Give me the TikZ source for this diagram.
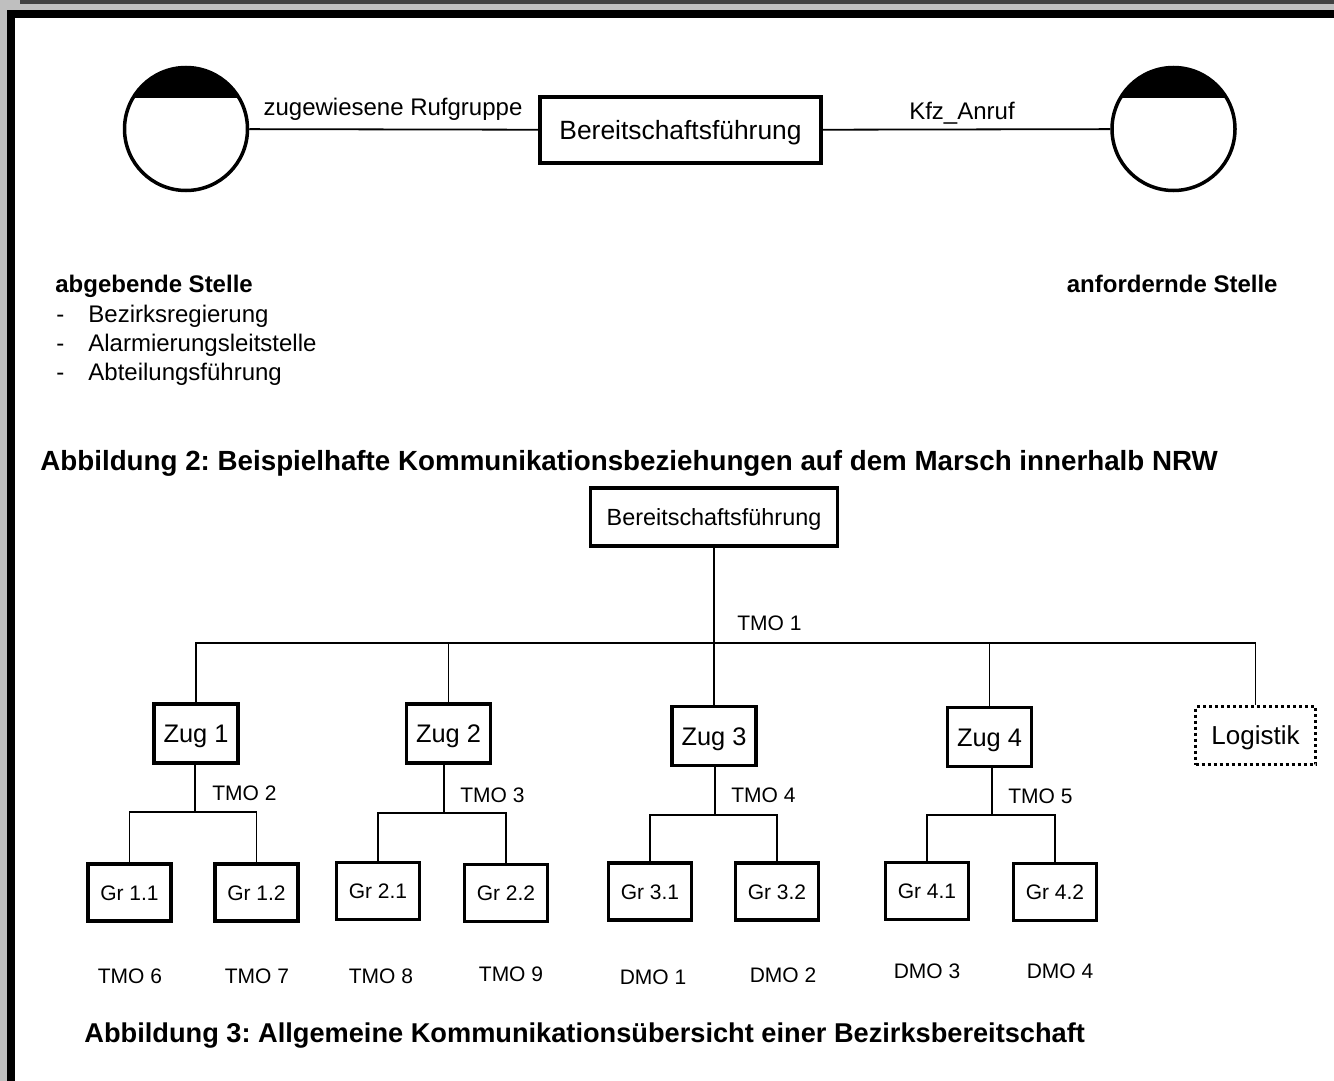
\documentclass[tikz,border=0pt]{standalone}
\usepackage{fontspec}
\setmainfont{Liberation Sans}
\frenchspacing
\newcommand{\pxfont}[1]{\fontsize{#1}{#1}\selectfont}

\begin{document}
\begin{tikzpicture}[
		x=1pt,
		y=-1pt,
		thick,
		conn/.style={line width=1.8pt},
		box/.style={draw, line width=3.5pt, inner sep=0pt, text depth=0pt},
		zugbox/.style={box, minimum width=84pt, minimum height=59pt, text height=18.2pt, font=\pxfont{25.4}},
		grbox/.style={box, minimum width=83pt, minimum height=57pt, text height=15pt, font=\pxfont{21}},
		stelle/.style={draw, circle, line width=3.5pt, minimum size=123pt, inner sep=0pt},
		lbl/.style={inner sep=0pt, font=\pxfont{24}},
		tmo/.style={inner sep=0pt, font=\pxfont{21}},
		title/.style={inner sep=0pt, font=\pxfont{27.2}\bfseries}
	]
		\useasboundingbox (0,0) rectangle (1334,1081);
		\fill[black!25] (0,0) rectangle (1334,1081);
		\fill[black!75] (20,0) rectangle (1334,4);
		\fill (7,10) rectangle (1334,1081);
		\fill[white] (15,18) rectangle (1334,1081);

		\node[stelle] (abg) at (186,129) {};
		\node[stelle] (anf) at (1173.5,129) {};
		\begin{scope}
			\clip (abg.center) circle (62pt);
			\fill (100,0) rectangle (300,98);
		\end{scope}
		\begin{scope}
			\clip (anf.center) circle (62pt);
			\fill (1090,0) rectangle (1260,98);
		\end{scope}
		\node[box, minimum width=281pt, minimum height=66pt, text height=19pt, font=\pxfont{26.4}] (bf1) at (680.5,130) {Bereitschaftsführung};
		\draw[conn] (abg) -- (bf1);
		\draw[conn] (bf1) -- (anf);
		\node[lbl, anchor=base] (ruf) at (393,115) {zugewiesene Rufgruppe};
		\node[lbl, anchor=base] (kfz) at (962,119) {Kfz\_Anruf};

		\node[lbl, anchor=base west, font=\pxfont{24}\bfseries] (abgtxt) at (55,292) {abgebende Stelle};
		\node[lbl, anchor=base west] (s1) at (56,322) {-};
		\node[lbl, anchor=base west] (t1) at (88,322) {Bezirksregierung};
		\node[lbl, anchor=base west] (s2) at (56,351) {-};
		\node[lbl, anchor=base west] (t2) at (88,351) {Alarmierungsleitstelle};
		\node[lbl, anchor=base west] (s3) at (56,380) {-};
		\node[lbl, anchor=base west] (t3) at (88,380) {Abteilungsführung};
		\node[lbl, anchor=base east, font=\pxfont{24}\bfseries] (anftxt) at (1278,292) {anfordernde Stelle};

		\node[title, anchor=base west, font=\pxfont{27.75}\bfseries] (abb2) at (40,470) {Abbildung 2: Beispielhafte Kommunikationsbeziehungen auf dem Marsch innerhalb NRW};

		\node[box, minimum width=247pt, minimum height=58pt, text height=16.8pt, font=\pxfont{23.4}] (bf2) at (714,517) {Bereitschaftsführung};
		\node[zugbox] (zug1) at (196,733.5) {Zug 1};
		\node[zugbox] (zug2) at (448.5,733.5) {Zug 2};
		\node[zugbox] (zug3) at (714,736) {Zug 3};
		\node[zugbox] (zug4) at (989.5,737) {Zug 4};
		\node[draw, line width=3pt, dash pattern=on 3pt off 3pt, inner sep=0pt, minimum width=120pt, minimum height=58pt, text height=18.6pt, text depth=0pt, font=\pxfont{26}] (log) at (1255.5,735.5) {Logistik};

		\coordinate (bus) at (714,643);
		\draw[conn] (bf2) -- (zug3);
		\draw[conn] (zug1.north) |- (bus) -| (log.north);
		\draw[conn] (zug2.north) -- (zug2.north |- bus);
		\draw[conn] (zug4.north) -- (zug4.north |- bus);
		\node[tmo, anchor=base west] (tmo1) at (737,630) {TMO 1};

		\node[grbox] (gr11) at (129.5,892.5) {Gr 1.1};
		\node[grbox] (gr12) at (256.5,892.5) {Gr 1.2};
		\node[grbox] (gr21) at (378,891) {Gr 2.1};
		\node[grbox] (gr22) at (506,893) {Gr 2.2};
		\node[grbox] (gr31) at (650,891.5) {Gr 3.1};
		\node[grbox] (gr32) at (777,891.5) {Gr 3.2};
		\node[grbox] (gr41) at (927,891) {Gr 4.1};
		\node[grbox] (gr42) at (1055,892) {Gr 4.2};

		\coordinate (j1) at (195,812);
		\coordinate (j2) at (444,813);
		\coordinate (j3) at (715,815);
		\coordinate (j4) at (992,815);
		\draw[conn] (j1 |- zug1.south) -- (j1);
		\draw[conn] (j2 |- zug2.south) -- (j2);
		\draw[conn] (j3 |- zug3.south) -- (j3);
		\draw[conn] (j4 |- zug4.south) -- (j4);
		\draw[conn] (gr11.north) |- (j1) -| (gr12.north);
		\draw[conn] (gr21.north) |- (j2) -| (gr22.north);
		\draw[conn] (gr31.north) |- (j3) -| (gr32.north);
		\draw[conn] (gr41.north) |- (j4) -| (gr42.north);
		\node[tmo, anchor=base west] (tmo2) at (212,800) {TMO 2};
		\node[tmo, anchor=base west] (tmo3) at (460,802) {TMO 3};
		\node[tmo, anchor=base west] (tmo4) at (731,802) {TMO 4};
		\node[tmo, anchor=base west] (tmo5) at (1008,803) {TMO 5};

		\node[tmo, anchor=base] (tmo6) at (130,983) {TMO 6};
		\node[tmo, anchor=base] (tmo7) at (257,983) {TMO 7};
		\node[tmo, anchor=base] (tmo8) at (381,983) {TMO 8};
		\node[tmo, anchor=base] (tmo9) at (511,981) {TMO 9};
		\node[tmo, anchor=base] (dmo1) at (653,984) {DMO 1};
		\node[tmo, anchor=base] (dmo2) at (783,982) {DMO 2};
		\node[tmo, anchor=base] (dmo3) at (927,978) {DMO 3};
		\node[tmo, anchor=base] (dmo4) at (1060,978) {DMO 4};

		\node[title, anchor=base west] (abb3) at (84,1042) {Abbildung 3: Allgemeine Kommunikationsübersicht einer Bezirksbereitschaft};
	\end{tikzpicture}
\end{document}
